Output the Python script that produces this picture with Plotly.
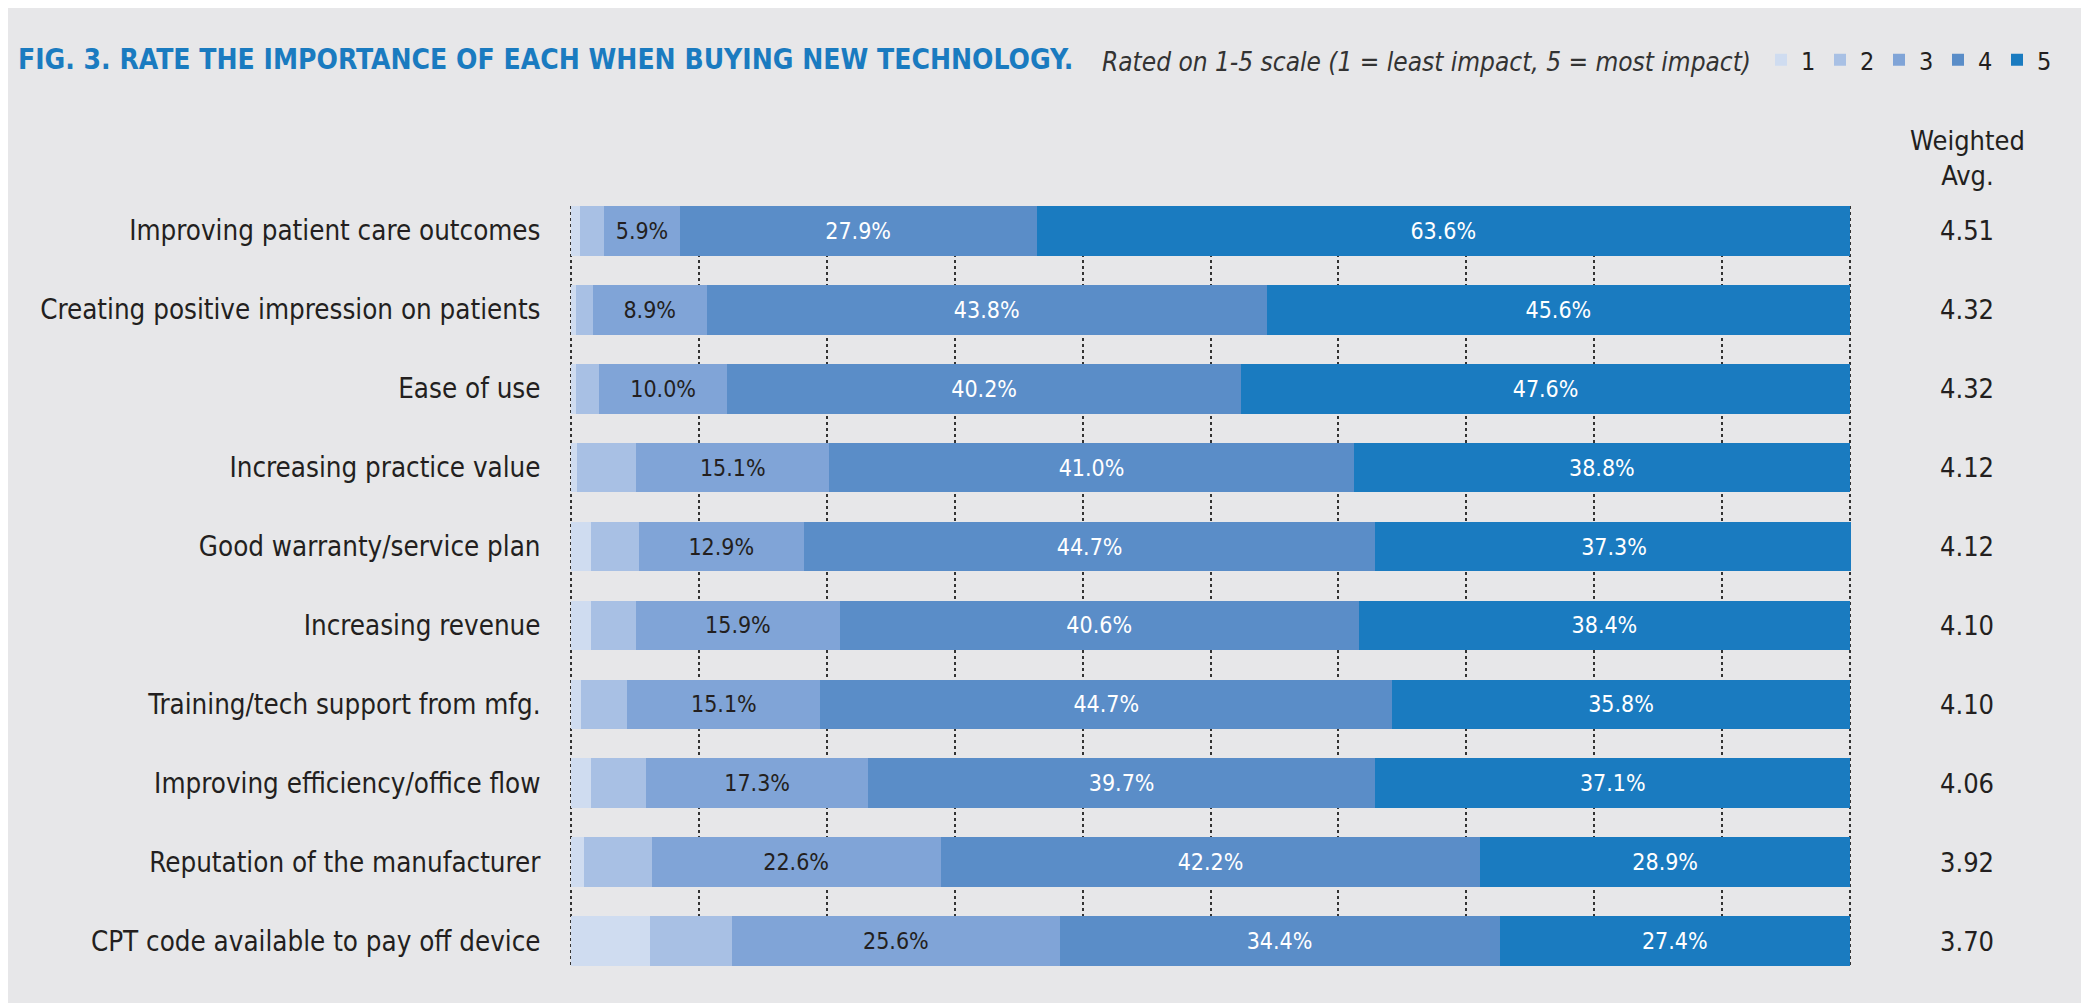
import plotly.graph_objects as go

categories = [
    "Improving patient care outcomes",
    "Creating positive impression on patients",
    "Ease of use",
    "Increasing practice value",
    "Good warranty/service plan",
    "Increasing revenue",
    "Training/tech support from mfg.",
    "Improving efficiency/office flow",
    "Reputation of the manufacturer",
    "CPT code available to pay off device",
]
# percent of respondents per rating (1 = least impact, 5 = most impact)
r1 = [0.7, 0.4, 0.4, 0.5, 1.6, 1.6, 0.8, 1.6, 1.0, 6.2]
r2 = [1.9, 1.3, 1.8, 4.6, 3.7, 3.5, 3.6, 4.3, 5.3, 6.4]
r3 = [5.9, 8.9, 10.0, 15.1, 12.9, 15.9, 15.1, 17.3, 22.6, 25.6]
r4 = [27.9, 43.8, 40.2, 41.0, 44.7, 40.6, 44.7, 39.7, 42.2, 34.4]
r5 = [63.6, 45.6, 47.6, 38.8, 37.3, 38.4, 35.8, 37.1, 28.9, 27.4]
weighted_avg = ["4.51", "4.32", "4.32", "4.12", "4.12", "4.10", "4.10", "4.06", "3.92", "3.70"]
rating_names = ["1", "2", "3", "4", "5"]

colors = ["#cfdcf0", "#a8c0e4", "#80a4d7", "#5a8dc8", "#1a7bc0"]
text_colors = [None, None, "#231f20", "#ffffff", "#ffffff"]
FONT = "Liberation Sans Narrow, DejaVu Sans Condensed, Arial Narrow, sans-serif"

BAR_W = 0.63

fig = go.Figure()
series = [r1, r2, r3, r4, r5]
for i, vals in enumerate(series):
    show_text = i >= 2
    fig.add_trace(go.Bar(
        y=categories, x=vals, orientation="h", name=rating_names[i],
        marker=dict(color=colors[i], line=dict(width=0)),
        width=BAR_W,
        text=[f"{v:.1f}%" for v in vals] if show_text else None,
        textposition="inside" if show_text else "none",
        insidetextanchor="middle",
        textangle=0,
        textfont=dict(family=FONT, size=23, color=text_colors[i] or "#000"),
        hoverinfo="x+y",
    ))

# the page body adds an 8px offset; size the figure so it sits exactly in the window
OFF = 8
W, H = 2089 - OFF, 1003 - OFF
PL, PR, PT, PB = 570, 1851, 206, 966          # plot area in screen pixels
L, R, T, B = PL - OFF, W - (PR - OFF), PT - OFF, H - (PB - OFF)
pw, ph = W - L - R, H - T - B

def px_x(x):
    return (x - PL) / pw

def px_y(y):
    return (PB - y) / ph

fig.update_layout(
    width=W, height=H,
    barmode="stack",
    paper_bgcolor="#e7e7e9", plot_bgcolor="#e7e7e9",
    margin=dict(l=L, r=R, t=T, b=B, pad=0, autoexpand=False),
    uniformtext=dict(minsize=23, mode="show"),
    font=dict(family=FONT, color="#231f20"),
    showlegend=True,
    legend=dict(
        orientation="h", x=px_x(1761), xanchor="left", y=px_y(60), yanchor="middle",
        font=dict(family=FONT, size=25, color="#231f20"),
        entrywidth=14, entrywidthmode="pixels",
        bgcolor="rgba(0,0,0,0)", traceorder="normal",
    ),
    xaxis=dict(
        range=[-0.08, 100.08], dtick=10, tick0=0,
        showgrid=True, gridcolor="#333333", griddash="dot", gridwidth=1.5,
        showticklabels=False, zeroline=False, showline=False, ticks="",
        automargin=False,
    ),
    yaxis=dict(
        type="category", categoryorder="array", categoryarray=categories,
        range=[len(categories) - 1 + BAR_W / 2, -BAR_W / 2],
        showgrid=False, zeroline=False, showline=False,
        ticks="outside", ticklen=23, tickcolor="rgba(0,0,0,0)",
        tickfont=dict(family=FONT, size=27.5, color="#231f20"),
        automargin=False,
    ),
)

annotations = [
    dict(text="<b>FIG. 3. RATE THE IMPORTANCE OF EACH WHEN BUYING NEW TECHNOLOGY.</b>",
         xref="paper", yref="paper", x=px_x(16), y=px_y(60), xanchor="left", yanchor="middle",
         showarrow=False, font=dict(family=FONT, size=28, color="#1a7bc0")),
    dict(text="<i>Rated on 1-5 scale (1 = least impact, 5 = most impact)</i>",
         xref="paper", yref="paper", x=px_x(1100), y=px_y(62), xanchor="left", yanchor="middle",
         showarrow=False, font=dict(family=FONT, size=26, color="#333333")),
    dict(text="Weighted<br>Avg.", xref="paper", yref="paper", x=px_x(1967), y=px_y(158),
         xanchor="center", yanchor="middle", showarrow=False,
         font=dict(family=FONT, size=27, color="#231f20")),
]
for cat, val in zip(categories, weighted_avg):
    annotations.append(dict(text=val, xref="paper", yref="y", x=px_x(1967), y=cat,
                            xanchor="center", yanchor="middle", showarrow=False,
                            font=dict(family=FONT, size=27, color="#231f20")))
fig.update_layout(annotations=annotations)

fig.write_html("out.html")
